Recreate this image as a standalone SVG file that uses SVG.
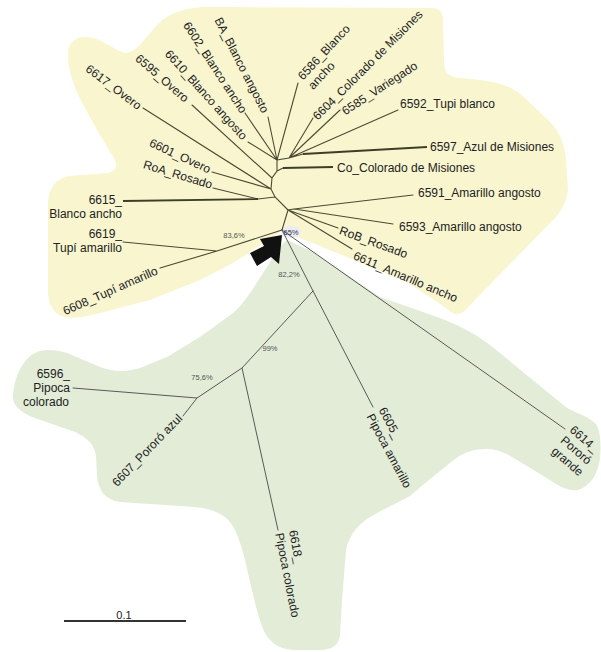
<svg xmlns="http://www.w3.org/2000/svg" width="601" height="652" viewBox="0 0 601 652">
<style>
.lbl{font-family:"Liberation Sans",Arial,sans-serif;font-size:12px;fill:#222}
.sup{font-family:"Liberation Sans",Arial,sans-serif;font-size:7.5px;fill:#555}
.ty{stroke:#4b4b33;stroke-width:1.1;fill:none;stroke-linecap:round}
.tyb{stroke:#3e3e28;stroke-width:1.8;fill:none}
.tg{stroke:#5a5a55;stroke-width:1;fill:none;stroke-linecap:round}
</style>
<rect width="601" height="652" fill="#fff"/>
<g id="blobs">
<path id="yellow-clade" fill="#f8f5cf" d="M85,37 C100,36 115,52 127,53 C142,50 152,24 170,15 C185,8 195,7 212,7 L430,8 C440,8 443,12 443,20 L444,62 C444,72 448,77 460,78 L480,80 C500,82 515,88 525,98 L550,122 C560,132 565,145 566,160 L568,190 C567,200 562,210 555,218 L472,303 C466,310 462,315 455,314 C450,312 446,308 440,304 L407,282 L347,257 L300,238 L287,234 L282,231 L273,237 L253,250 L233,263 L200,280 L150,300 L100,313 C80,318 67,320 58,314 C50,308 48,300 48,290 L48,205 C48,190 55,178 70,176 L108,173 C118,170 118,164 112,155 C100,135 85,110 76,90 C70,75 66,58 69,47 C72,40 78,37 85,37 Z"/>
<path id="green-clade" fill="#e2ecd7" d="M287,240 L313,252 L380,297 L440,318 C455,324 470,330 490,345 L567,408 C578,414 588,416 596,424 C601,432 601,448 600,458 C598,475 590,486 578,490 C568,491 560,487 550,480 L517,460 C505,452 495,449 487,449 C473,449 465,452 455,459 L430,479 L410,496 L377,513 C360,522 350,532 346,550 L342,600 L340,635 C339,645 332,650 320,650 L295,650 C283,650 273,645 266,635 C258,620 252,590 245,560 C240,540 235,525 225,517 C215,510 205,508 195,507 L120,502 C105,500 98,490 97,475 L96,457 C95,445 88,438 75,432 L35,418 C20,412 12,405 13,395 C14,380 20,365 30,356 C38,349 52,348 67,353 L100,367 C115,372 125,372 140,368 L167,357 L200,337 L233,313 C245,303 255,285 265,270 L281,245 Z"/>
<ellipse cx="291" cy="232" rx="10" ry="6" fill="#ececf6"/>
</g>
<g id="connectors">
<path class="ty" d="M282,230 L288,210 L294,209 M294,209 L413,195 M294,209 L393,224 M288,210 L338,228 M288,210 L352,249 M288,210 L275,197 L271,189 L272,178 L277,171 L277,160 L289,158 M275,197 L258,199 M258,199 L213,188 M271,189 L212,172 M271,189 L143,108 M272,178 L192,105 M277,171 L283,168 M277,160 L248,142 M277,160 L245,113 M277,160 L268,117 M277,160 L298,83 M289,158 L313,118 M289,158 L340,110 M289,158 L398,110 M289,158 L303,154"/>
<path class="tyb" d="M258,199 L123,201 M283,168 L333,167 M303,154 L427,147"/>
<path class="ty" d="M282,230 L217,251 L160,268 M217,251 L123,242"/>
<path class="tg" d="M282,230 L313,291 L373,407 M282,230 L565,429 M313,291 L242,368 L278,530 M242,368 L197,398 L73,388 M197,398 L183,416"/>
</g>
<g id="arrow"><polygon points="282,235 260,239 264,246 250,253 257,266 271,257 279,264" fill="#111"/></g>
<g id="support">
<text class="sup" x="234" y="238" text-anchor="middle">83,6%</text>
<text class="sup" x="291" y="235" text-anchor="middle" style="fill:#334">65%</text>
<text class="sup" x="289" y="277" text-anchor="middle">82,2%</text>
<text class="sup" x="270" y="351" text-anchor="middle">99%</text>
<text class="sup" x="202" y="380" text-anchor="middle">75,6%</text>
</g>
<g id="n6592"><text class="lbl" x="400" y="108">6592_Tupi blanco</text></g>
<g id="n6597"><text class="lbl" x="430" y="151">6597_Azul de Misiones</text></g>
<g id="nCo"><text class="lbl" x="337" y="172">Co_Colorado de Misiones</text></g>
<g id="n6591"><text class="lbl" x="418" y="197">6591_Amarillo angosto</text></g>
<g id="n6593"><text class="lbl" x="399" y="231">6593_Amarillo angosto</text></g>
<g id="nRoB"><text class="lbl" transform="translate(338.6,233.8) rotate(20)">RoB_Rosado</text></g>
<g id="n6611"><text class="lbl" transform="translate(352.4,258.7) rotate(23)">6611_Amarillo ancho</text></g>
<g id="n6585"><text class="lbl" transform="translate(345.2,115.4) rotate(-33)">6585_Variegado</text></g>
<g id="n6604"><text class="lbl" transform="translate(317.8,120.8) rotate(-45)">6604_Colorado de Misiones</text></g>
<g id="n6586"><text class="lbl" transform="translate(302.9,80.7) rotate(-47)"><tspan x="0" y="0">6586_Blanco</tspan><tspan x="0" y="14">ancho</tspan></text></g>
<g id="nBA"><text class="lbl" text-anchor="end" transform="translate(262,114) rotate(63)">BA_Blanco angosto</text></g>
<g id="n6602"><text class="lbl" text-anchor="end" transform="translate(240.6,114.2) rotate(57)">6602_Blanco ancho</text></g>
<g id="n6610"><text class="lbl" text-anchor="end" transform="translate(242,140.7) rotate(48)">6610_Blanco angosto</text></g>
<g id="n6595"><text class="lbl" text-anchor="end" transform="translate(184.4,103) rotate(41)">6595_Overo</text></g>
<g id="n6617"><text class="lbl" text-anchor="end" transform="translate(137.6,110.2) rotate(37)">6617_Overo</text></g>
<g id="n6601"><text class="lbl" text-anchor="end" transform="translate(208.3,173.6) rotate(25)">6601_Overo</text></g>
<g id="nRoA"><text class="lbl" text-anchor="end" transform="translate(210.8,188.8) rotate(17)">RoA_Rosado</text></g>
<g id="n6615"><text class="lbl" text-anchor="end"><tspan x="122" y="204">6615_</tspan><tspan x="122" y="218">Blanco ancho</tspan></text></g>
<g id="n6619"><text class="lbl" text-anchor="end"><tspan x="122" y="238">6619_</tspan><tspan x="122" y="252">Tupí amarillo</tspan></text></g>
<g id="n6608"><text class="lbl" text-anchor="end" transform="translate(158.6,273.7) rotate(-24)">6608_Tupí amarillo</text></g>
<g id="n6596"><text class="lbl" text-anchor="end"><tspan x="70" y="378">6596_</tspan><tspan x="70" y="392">Pipoca</tspan><tspan x="69" y="406">colorado</tspan></text></g>
<g id="n6607"><text class="lbl" text-anchor="end" transform="translate(183,419) rotate(-46)">6607_Pororó azul</text></g>
<g id="n6618"><text class="lbl" transform="translate(289,531) rotate(79)"><tspan x="0" y="0">6618_</tspan><tspan x="0" y="14">Pipoca colorado</tspan></text></g>
<g id="n6605"><text class="lbl" transform="translate(378.5,410) rotate(62)"><tspan x="0" y="0">6605_</tspan><tspan x="0" y="14">Pipoca amarillo</tspan></text></g>
<g id="n6614"><text class="lbl" transform="translate(569,431) rotate(41)"><tspan x="0" y="0">6614_</tspan><tspan x="0" y="14">Pororó</tspan><tspan x="0" y="28">grande</tspan></text></g>
<g id="scale">
<line x1="64" y1="621" x2="186" y2="621" stroke="#333" stroke-width="1.8"/>
<text x="124" y="619" text-anchor="middle" style="font-family:'Liberation Sans',Arial,sans-serif;font-size:11px;fill:#222">0.1</text>
</g>
</svg>
